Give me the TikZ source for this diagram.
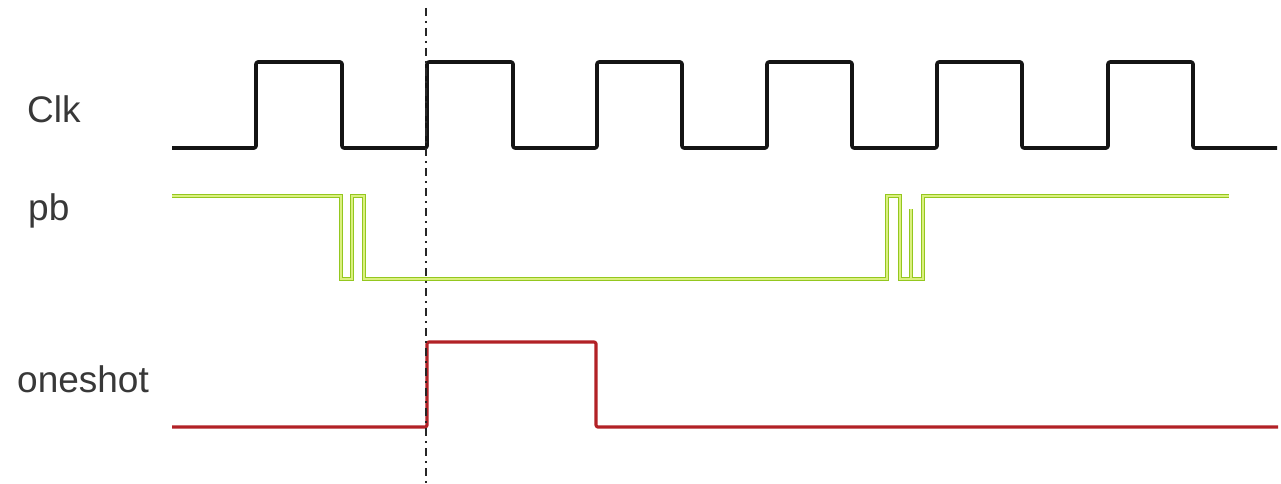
\documentclass[tikz,border=0pt]{standalone}
\usepackage{fontspec}
\setmainfont{Liberation Sans}
\definecolor{clkcol}{rgb}{0.08,0.08,0.08}
\definecolor{pbout}{rgb}{0.58,0.78,0.12}
\definecolor{pbin}{rgb}{0.86,0.94,0.50}
\definecolor{oscol}{rgb}{0.70,0.13,0.15}
\definecolor{txtcol}{rgb}{0.22,0.22,0.22}
\begin{document}
\begin{tikzpicture}[x=1pt,y=-1pt,
  lbl/.style={anchor=base west,inner sep=0pt,text=txtcol,font=\fontsize{37}{42}\selectfont},
  clkwave/.style={draw=clkcol,line width=3.6pt,rounded corners=2pt,line join=round},
  pbwave/.style={draw=pbout,line width=1.3pt,double=pbin,double distance=1.2pt,line join=miter},
  oswave/.style={draw=oscol,line width=3.2pt,rounded corners=2pt,line join=round},
  marker/.style={draw=black!85,line width=1.4pt,dash pattern=on 8pt off 5pt on 2pt off 5pt}]
\useasboundingbox[fill=white] (0,0) rectangle (1281,484);
\node[lbl] (clk) at (27,123) {Clk};
\node[lbl] (pb) at (28,220) {pb};
\node[lbl] (oneshot) at (17,392) {oneshot};
% clock
\draw[clkwave] (172,148) -- (256,148) -- (256,62) -- (342,62) -- (342,148)
  -- (427,148) -- (427,62) -- (513,62) -- (513,148)
  -- (597,148) -- (597,62) -- (682,62) -- (682,148)
  -- (767,148) -- (767,62) -- (852,62) -- (852,148)
  -- (937,148) -- (937,62) -- (1022,62) -- (1022,148)
  -- (1108,148) -- (1108,62) -- (1193,62) -- (1193,148) -- (1277,148);
% pb
\draw[pbwave] (172,196) -- (341,196) -- (341,279) -- (352,279) -- (352,196)
  -- (364,196) -- (364,279) -- (887,279) -- (887,196) -- (900,196) -- (900,279)
  -- (911,279) -- (911,209) -- (911,279) -- (923,279) -- (923,196) -- (1229,196);
% oneshot
\draw[oswave] (172,427) -- (427,427) -- (427,342) -- (596,342) -- (596,427) -- (1278,427);
% marker
\draw[marker] (426,8) -- (426,484);
\end{tikzpicture}
\end{document}
